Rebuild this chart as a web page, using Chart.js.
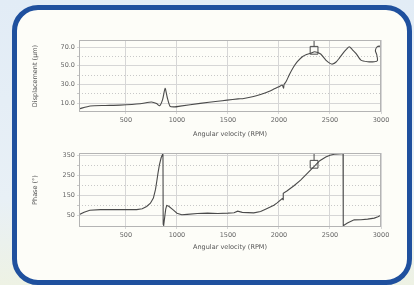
<!DOCTYPE html>
<html lang="en">
<head>
<meta charset="UTF-8">
<title>Displacement and phase vs angular velocity</title>
<script src="https://cdn.jsdelivr.net/npm/chart.js"></script>
<style>
  body { margin: 0; width: 414px; height: 285px; overflow: hidden; position: relative;
         background: linear-gradient(180deg, #e2ecf6 0%, #e8f0f6 70%, #eef2e4 100%); }
  .frame { position: absolute; left: 12px; top: 5px; width: 390px; height: 270px;
           border: 5px solid #1f509e; border-radius: 26px; background: #fdfdf8; }
  .box { position: absolute; left: 20px; width: 375px; height: 105px; }
</style>
</head>
<body>
<div class="frame"></div>
<div class="box" style="top:33px"><canvas id="dispChart" width="375" height="105"></canvas></div>
<div class="box" style="top:146px"><canvas id="phaseChart" width="375" height="105"></canvas></div>
<script>
// displacement trace (RPM, um)
const dispRpm = [40, 150, 300, 440, 640, 750, 800, 830, 860, 884, 905, 933, 980, 1031, 1228, 1400, 1491, 1600, 1655, 1750,
  1819, 1900, 1950, 2000, 2032, 2045, 2050, 2070, 2100, 2140, 2180, 2229, 2270, 2311, 2350, 2409, 2459, 2500, 2525, 2560,
  2590, 2640, 2688, 2720, 2754, 2803, 2869, 2934, 2965, 2958, 2945, 2960, 2985, 3000];
const dispUm = [3.8, 7.0, 7.5, 7.9, 9.3, 11.2, 9.5, 7.1, 14, 25.8, 16, 6.5, 6.0, 6.8, 9.7, 12, 13.2, 14.5, 15, 17,
  19.3, 22.5, 25, 27.5, 29.3, 26, 30, 33, 40, 48, 54.3, 59.6, 62, 63.3, 65, 62.5, 56, 52.5, 51.8, 54,
  57.9, 65, 70.3, 67, 63.3, 56, 54.3, 54.3, 55.5, 62, 66, 70, 71, 70];

// phase trace (RPM, deg)
const phaseRpm = [40, 90, 146, 250, 400, 605, 660, 703, 740, 769, 790, 802, 815, 828, 845, 860, 863, 865, 870, 880,
  890, 900, 920, 966, 1000, 1047, 1100, 1200, 1300, 1400, 1500, 1560, 1595, 1640, 1753, 1820, 1884, 1950, 1982, 2032,
  2040, 2042, 2081, 2150, 2212, 2280, 2350, 2400, 2459, 2500, 2541, 2622, 2628, 2630, 2671, 2737, 2803, 2869, 2934, 2970, 3000];
const phaseDeg = [52, 65, 75, 78, 78, 78, 82, 94, 110, 136, 180, 220, 265, 304, 340, 358, 355, 5, -2, 40,
  80, 99, 95, 75, 60, 52, 54, 58, 60, 58, 60, 62, 70, 64, 61.6, 68, 84, 100, 112, 134,
  128, 160, 173, 200, 227, 262, 299, 325, 344, 353, 358, 360, 360, -4, 10, 26, 27, 30, 35, 42, 50];

const xTicks = [500, 1000, 1500, 2000, 2500, 3000];
const dispTicks = [10, 20, 30, 40, 50, 60, 70];
const dispLabels = [10, 30, 50, 70];
const phaseTicks = [50, 100, 150, 200, 250, 300, 350];
const phaseLabels = [50, 150, 250, 350];

const cursorRpm = 2344;
const cursorDisp = 66.5;
const cursorPhase = 307;

const ink = '#4a4a4a';
const tickFont = { family: 'DejaVu Sans', size: 6.5 };

const frameBox = {
  id: 'frameBox',
  afterDraw(chart) {
    const a = chart.chartArea, c = chart.ctx;
    c.save();
    c.strokeStyle = '#b4b4b4';
    c.lineWidth = 1;
    c.strokeRect(a.left + 0.5, a.top + 0.5, a.right - a.left - 1, a.bottom - a.top - 1);
    c.restore();
  }
};

function makeChart(id, xs, ys, cfg) {
  const pts = xs.map((x, i) => ({ x: x, y: ys[i] }));
  return new Chart(document.getElementById(id), {
    type: 'line',
    data: {
      datasets: [
        { data: pts, borderColor: ink, borderWidth: 1.1, pointRadius: 0, tension: cfg.tension },
        { data: [{ x: cursorRpm, y: cfg.cursor }], showLine: false, pointStyle: 'rect',
          pointRadius: 5.5, pointBorderColor: ink, pointBackgroundColor: 'rgba(0,0,0,0)', pointBorderWidth: 1 },
        { data: cfg.cursorLine, borderColor: ink, borderWidth: 1, pointRadius: 0 }
      ]
    },
    options: {
      responsive: false,
      animation: false,
      layout: { padding: { top: 7, right: 14, left: 0, bottom: 0 } },
      plugins: { legend: { display: false }, tooltip: { enabled: false } },
      scales: {
        x: {
          type: 'linear', min: 40, max: 3000,
          afterBuildTicks: s => { s.ticks = xTicks.map(v => ({ value: v })); },
          afterFit: s => { s.height = cfg.xh; },
          grid: { color: '#d6d6d6', tickLength: 2 },
          border: { display: false },
          ticks: { font: tickFont, color: '#666', padding: 2, maxRotation: 0, callback: v => String(v) },
          title: { display: true, text: 'Angular velocity (RPM)', font: tickFont, color: '#555', padding: { top: 2, bottom: 0 } }
        },
        y: {
          min: cfg.min, max: cfg.max,
          afterBuildTicks: s => { s.ticks = cfg.ticks.map(v => ({ value: v })); },
          afterFit: s => { s.width = 59; },
          grid: { color: ctx => cfg.labels.includes(ctx.tick && ctx.tick.value) ? '#d6d6d6' : '#c8c8c8', tickLength: 2 },
          border: { display: false, dash: ctx => cfg.labels.includes(ctx.tick && ctx.tick.value) ? [] : [1, 2] },
          ticks: { font: tickFont, color: '#666', padding: 2,
                   callback: v => cfg.labels.includes(v) ? cfg.fmt(v) : '' },
          title: { display: true, text: cfg.title, font: tickFont, color: '#555', padding: { top: 11, bottom: 0 } }
        }
      }
    },
    plugins: [frameBox]
  });
}

makeChart('dispChart', dispRpm, dispUm, {
  min: 0.5, max: 77.5, ticks: dispTicks, labels: dispLabels, xh: 26, tension: 0.2,
  fmt: v => v.toFixed(1), title: 'Displacement (µm)',
  cursor: cursorDisp, cursorLine: [{ x: cursorRpm, y: cursorDisp + 4 }, { x: cursorRpm, y: 80 }]
});

makeChart('phaseChart', phaseRpm, phaseDeg, {
  min: -10, max: 364, ticks: phaseTicks, labels: phaseLabels, xh: 24, tension: 0,
  fmt: v => String(v), title: 'Phase (°)',
  cursor: cursorPhase, cursorLine: [{ x: cursorRpm, y: cursorPhase + 20 }, { x: cursorRpm, y: 370 }]
});
</script>
</body>
</html>
